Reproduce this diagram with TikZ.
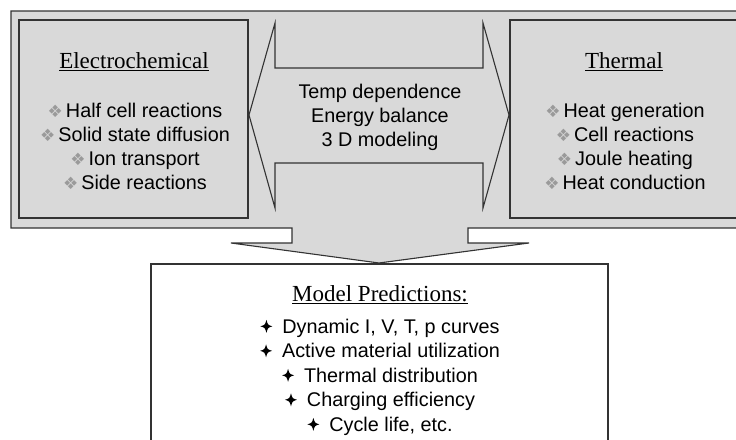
\documentclass[tikz,border=0pt]{standalone}
\usepackage{fontspec}
\setmainfont{Liberation Sans}
\newfontfamily\seriffont{Liberation Serif}
\newfontfamily\dvfont{DejaVu Sans}
\definecolor{panelgray}{HTML}{D9D9D9}
\definecolor{linegray}{HTML}{333333}
\definecolor{bulletgray}{HTML}{9A9A9A}
\newcommand{\gb}{{\dvfont\fontsize{17}{17}\selectfont\color{bulletgray}❖}\hspace{3pt}}
\newcommand{\bs}{\tikz[baseline={(0,-6.8pt)}]\fill[black] (0,6.5pt) .. controls (1.4pt,1.4pt) .. (6pt,0) .. controls (1.4pt,-1.4pt) .. (0,-6.5pt) .. controls (-1.4pt,-1.4pt) .. (-6pt,0) .. controls (-1.4pt,1.4pt) .. cycle;\hspace{10pt}}
\tikzset{
  shape line/.style={draw=linegray, line width=1.1pt, line join=miter},
  heading/.style={font=\seriffont\fontsize{23}{26}\selectfont, inner sep=0pt},
  items/.style={font=\fontsize{19.8}{24}\selectfont, align=center, inner sep=0pt},
}
\begin{document}
\begin{tikzpicture}[x=1pt,y=-1pt]
\useasboundingbox (0,0) rectangle (736,439);
\clip (0,0) rectangle (736,439);
% outer panel with down arrow
\path[shape line, fill=panelgray]
  (11,11) -- (760,11) -- (760,228) -- (468,228) -- (468,243) -- (529,243)
  -- (379,263) -- (231,243) -- (292,243) -- (292,228) -- (11,228) -- cycle;
% left and right boxes
\path[shape line, fill=panelgray] (19,20) rectangle (248,218);
\path[shape line, fill=panelgray] (510,20) rectangle (760,218);
% double arrow
\path[shape line, fill=panelgray]
  (249,115) -- (275,23) -- (275,68) -- (483,68) -- (483,23) -- (509,115)
  -- (483,208) -- (483,163) -- (275,163) -- (275,208) -- cycle;
% bottom box
\path[shape line, fill=white] (151,264) rectangle (608,460);
% texts
\node[heading] (ech) at (134,62) {\underline{Electrochemical}};
\node[items] (echitems) at (135,146) {\gb Half cell reactions\\ \gb Solid state diffusion\\ \gb Ion transport\\ \gb Side reactions};
\node[heading] (th) at (624,62) {\underline{Thermal}};
\node[items] (thitems) at (625,146) {\gb Heat generation\\ \gb Cell reactions\\ \gb Joule heating\\ \gb Heat conduction};
\node[items] (mid) at (380,117) {Temp dependence\\ Energy balance\\ 3 D modeling};
\node[heading] (mp) at (380,295) {\underline{Model Predictions:}};
\node[items, font=\fontsize{19.8}{24.5}\selectfont] (mpitems) at (380,377) {\bs Dynamic I, V, T, p curves\\ \bs Active material utilization\\ \bs Thermal distribution\\ \bs Charging efficiency\\ \bs Cycle life, etc.};
\end{tikzpicture}
\end{document}
